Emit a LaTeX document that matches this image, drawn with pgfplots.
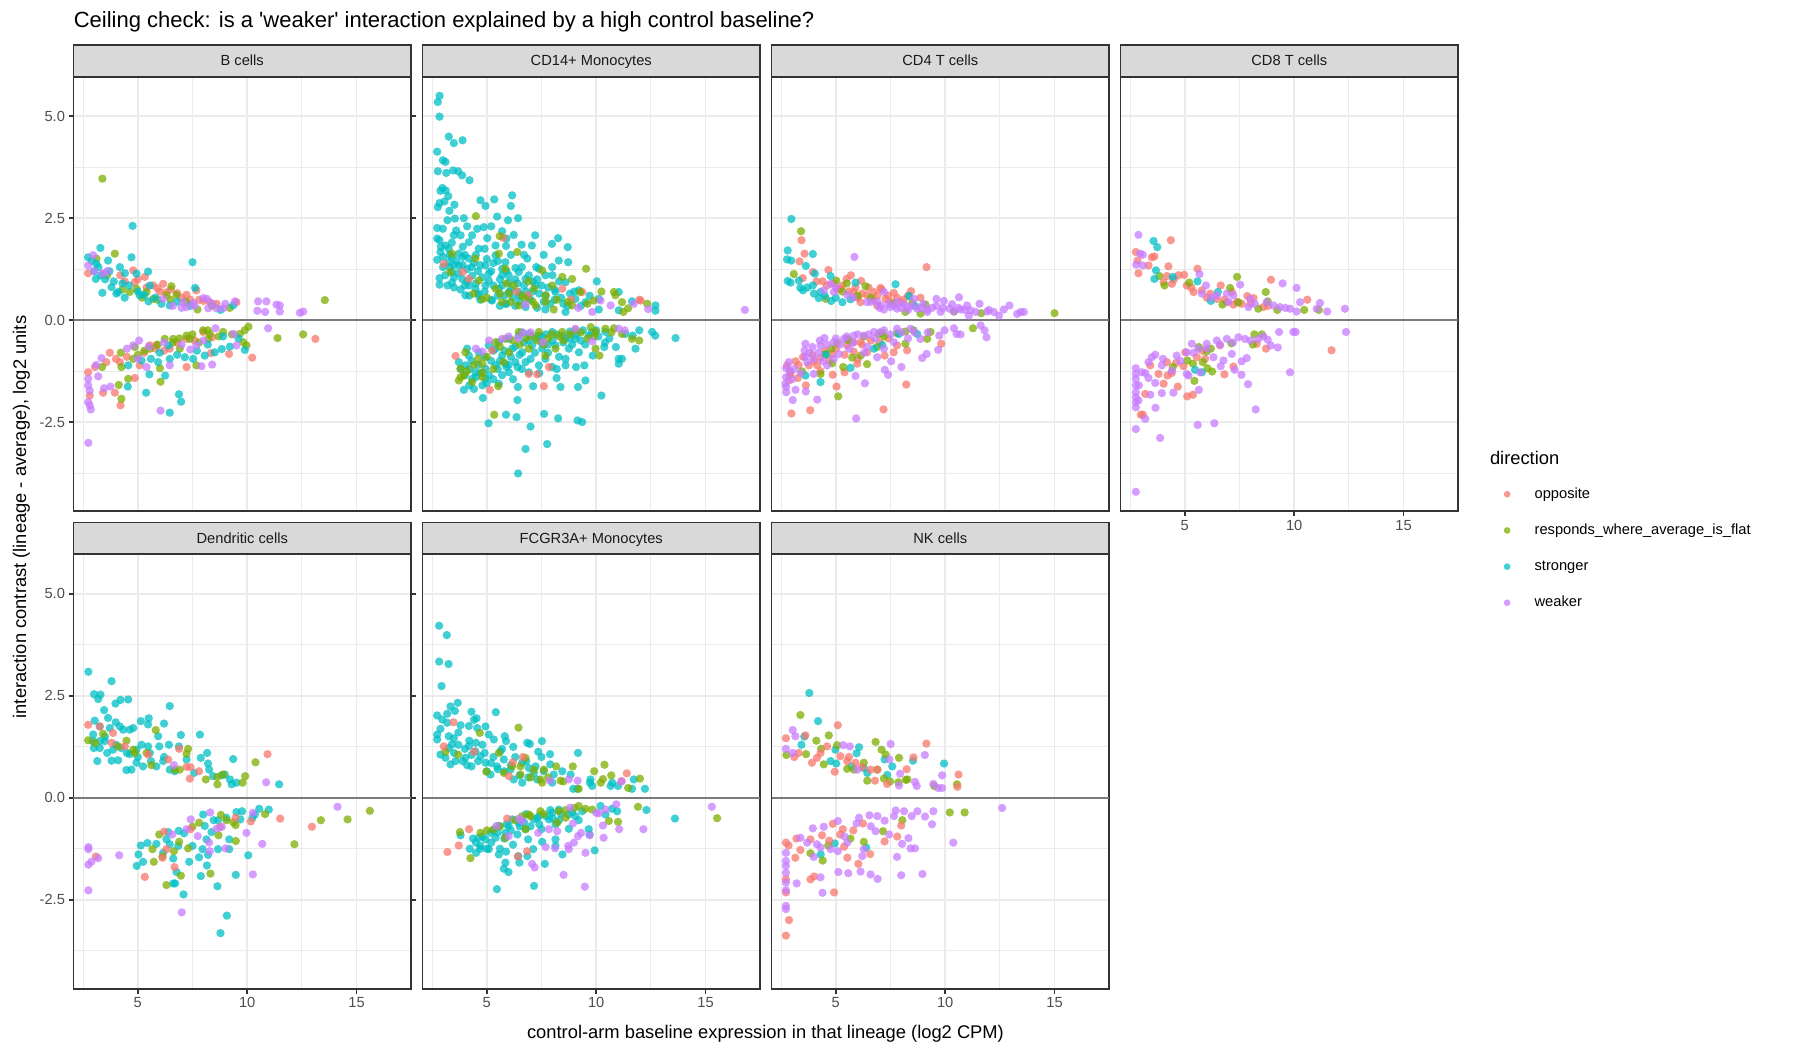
\documentclass[border=0pt]{standalone}
\usepackage{fontspec}
\setmainfont{Liberation Sans}
\usepackage{pgfplots}
\pgfplotsset{compat=1.18}
\definecolor{cO}{HTML}{F8766D}
\definecolor{cR}{HTML}{7CAE00}
\definecolor{cS}{HTML}{00BFC4}
\definecolor{cW}{HTML}{C77CFF}
\definecolor{g92}{HTML}{EBEBEB}
\definecolor{g85}{HTML}{D9D9D9}
\definecolor{g20}{HTML}{333333}
\definecolor{g30}{HTML}{4D4D4D}
\definecolor{g10}{HTML}{1A1A1A}
\definecolor{hl}{HTML}{7A7A7A}
\newcommand\tfs{\fontsize{8.8}{10}\selectfont}
\newcommand\afs{\fontsize{11}{13}\selectfont}
\pgfplotsset{
 panel/.style={scale only axis, width=202.5pt, height=260.8pt,
  xmin=2.06, xmax=17.49, ymin=-4.69, ymax=5.97,
  xtick={5,10,15}, ytick={-2.5,0,2.5,5},
  minor xtick={2.5,7.5,12.5}, minor ytick={-3.75,-1.25,1.25,3.75},
  grid=both, major grid style={draw=g92, line width=1.07pt},
  minor grid style={draw=g92, line width=0.53pt},
  axis line style={draw=g20, line width=1.07pt},
  tick align=outside, major tick length=2.75pt, minor tick length=0pt,
  xtick style={draw=none}, ytick style={draw=none},
  xticklabels={}, yticklabels={}, anchor=north west},
 xlab/.style={xtick style={draw=g20, line width=1.07pt}, xticklabels={5,10,15},
  xticklabel style={font=\tfs, text=g30, inner sep=0pt, yshift=-2.2pt}},
 ylab/.style={ytick style={draw=g20, line width=1.07pt}, yticklabels={-2.5,0.0,2.5,5.0},
  yticklabel style={font=\tfs, text=g30, inner sep=0pt, xshift=-2.2pt}},
 dot/.style={only marks, color=#1, mark=*, mark size=2.5pt,
  mark options={fill=#1, draw=#1, line width=0pt, fill opacity=0.75, draw opacity=0}},
 po/.style={dot=cO}, pr/.style={dot=cR}, ps/.style={dot=cS}, pw/.style={dot=cW},
 hz/.style={draw=hl, line width=1.07pt, forget plot},
}
\newcommand\strip[2]{\draw[fill=g85, draw=g20, line width=1.07pt] (#1.north west) rectangle ([yshift=19.15pt]#1.north east);
 \node[font=\tfs, text=g10, inner sep=0pt, text height=6.3pt, text depth=0pt] at ([yshift=9.575pt]#1.north) {#2};}
\begin{document}
\begin{tikzpicture}
\useasboundingbox (0,0) rectangle (1080pt,-630pt);
\node[anchor=base west, inner sep=0pt, font=\fontsize{13.2}{15}\selectfont] at (44.1pt,-16.5pt) {Ceiling check: is a \textquotesingle weaker\textquotesingle{} interaction explained by a high control baseline?};

% B cells
\begin{axis}[panel, ylab, at={(44.1pt,-46.0pt)}, name=bc]
\addplot[hz] coordinates {(2.06,0) (17.49,0)};
\addplot[po] coordinates {(2.73,1.15)(4.79,1.22)(5.32,1.06)(5.70,0.85)(6.16,0.89)(7.23,0.62)(7.68,0.73)(8.29,0.44)(9.51,0.44)(3.41,1.14)(4.86,0.93)(6.5,0.75)(7.0,0.55)(5.0,1.0)(6.0,0.7)(7.8,0.5)(4.4,0.95)(5.4,0.8)(5.9,0.78)(6.3,0.68)(6.8,0.66)(7.4,0.5)(8.0,0.47)(8.6,0.4)(4.2,1.1)
(3.04,-1.15)(2.73,-1.28)(3.72,-0.80)(3.56,-1.03)(3.41,-1.78)(3.95,-1.78)(4.21,-2.09)(2.80,-1.85)(4.86,-1.42)(5.09,-1.11)(5.85,-0.62)(6.46,-0.70)(7.23,-0.46)(7.99,-0.29)(8.34,-0.81)(9.17,-0.83)(10.23,-0.92)(13.12,-0.46)(7.23,-1.15)(5.55,-0.62)(4.18,-1.03)(4.5,-0.9)(5.3,-0.8)(5.8,-0.7)(6.8,-0.55)(7.6,-0.5)(8.4,-0.42)(6.2,-0.75)(4.0,-0.95)};
\addplot[pr] coordinates {(3.38,3.47)(3.95,1.63)(6.54,0.83)(13.55,0.49)(7.73,0.26)(9.2,0.30)(3.11,1.51)(4.63,0.69)(5.70,0.52)(6.31,0.61)(6.77,0.62)(5.40,0.69)(4.94,0.77)(4.3,0.75)(5.2,0.55)(5.9,0.5)(6.5,0.5)(7.2,0.45)(8.4,0.35)(3.6,1.1)
(10.06,-0.16)(9.89,-0.25)(9.66,-0.34)(11.39,-0.44)(12.56,-0.35)(8.9,-0.29)(8.29,-0.34)(7.99,-0.25)(7.23,-0.38)(6.62,-0.46)(6.23,-0.46)(6.92,-0.70)(6.01,-1.18)(6.04,-1.51)(4.22,-0.80)(4.86,-0.66)(4.79,-0.95)(4.25,-1.15)(3.37,-1.15)(4.13,-1.59)(4.25,-1.93)(4.56,-1.44)(7.68,-1.11)(5.55,-0.70)(9.97,-0.62)(9.82,-0.54)(8.22,-0.46)(7.38,-0.46)(5.3,-0.75)(5.9,-0.6)(6.6,-0.55)(7.5,-0.35)(8.2,-0.25)(8.7,-0.4)(9.3,-0.35)(6.9,-0.45)(7.8,-0.55)(5.0,-0.85)};
\addplot[ps] coordinates {(2.73,1.54)(3.29,1.77)(4.76,2.31)(7.50,1.42)(3.11,1.38)(3.64,1.46)(4.18,1.30)(4.71,1.54)(5.47,1.19)(3.08,1.01)(3.38,0.67)(3.80,0.81)(4.10,0.69)(4.41,1.15)(4.94,1.14)(5.55,0.85)(5.49,0.46)(6.08,0.40)(6.46,0.36)(7.62,0.79)(8.78,0.25)(9.36,0.36)(4.02,0.65)(5.09,0.61)(3.0,1.2)(3.3,1.1)(3.5,1.0)(3.9,0.95)(4.3,0.9)(4.6,0.85)(5.0,0.7)(5.3,0.62)(5.8,0.55)(3.2,1.3)(3.7,1.2)(2.9,1.45)(4.4,0.55)(6.8,0.45)(7.4,0.35)
(4.56,-1.11)(5.38,-1.78)(5.53,-1.33)(6.25,-1.36)(6.88,-1.82)(6.98,-2.00)(6.46,-2.27)(4.54,-1.63)(8.90,-0.40)(8.84,-0.71)(9.89,-0.73)(9.21,-0.65)(8.06,-0.87)(7.15,-0.91)(6.46,-0.95)(5.93,-1.03)(5.17,-0.99)(7.53,-0.95)(8.52,-0.79)(6.0,-0.8)(6.8,-0.85)(7.7,-0.75)(8.2,-0.6)(5.6,-0.95)(6.4,-0.62)(9.6,-0.45)};
\addplot[pw] coordinates {(2.73,1.34)(2.96,1.59)(3.41,1.14)(8.0,0.54)(8.16,0.52)(9.44,0.46)(10.5,0.46)(10.88,0.46)(10.47,0.23)(10.82,0.20)(11.34,0.38)(11.49,0.36)(11.49,0.21)(12.41,0.18)(12.56,0.21)(7.07,0.44)(7.53,0.42)(8.22,0.29)(8.60,0.29)(8.9,0.29)(7.23,0.32)(6.16,0.52)(7.6,0.35)(8.4,0.4)(6.6,0.35)(7.0,0.3)(9.0,0.4)(3.0,1.2)(3.6,1.2)
(2.74,-3.01)(2.73,-1.44)(2.73,-1.60)(2.80,-1.73)(2.73,-2.01)(2.85,-2.19)(2.80,-2.09)(3.19,-1.38)(3.34,-0.93)(3.46,-1.67)(3.75,-1.63)(6.04,-2.22)(5.06,-0.50)(4.79,-0.62)(10.96,-0.20)(8.55,-0.20)(9.38,-0.34)(7.91,-1.13)(8.40,-1.09)(9.51,-0.62)(7.68,-0.62)(6.46,-1.11)(5.40,-1.15)(5.5,-0.65)(6.2,-0.55)(7.0,-0.6)(8.0,-0.5)(4.5,-0.7)(5.0,-0.95)(3.1,-1.1)(7.4,-0.72)};
\end{axis}
\strip{bc}{B cells}

% CD14+ Monocytes
\begin{axis}[panel, at={(253.5pt,-46.0pt)}, name=cd14]
\addplot[hz] coordinates {(2.06,0) (17.49,0)};
\addplot[ps] coordinates {(2.84,5.50)(2.76,5.35)(2.84,4.99)(3.26,4.50)(3.49,4.34)(3.89,4.41)(2.73,4.13)(2.99,3.92)(3.11,3.88)(2.76,3.65)(3.15,3.61)(3.46,3.67)(3.69,3.65)(3.87,3.55)(4.21,3.43)(2.97,3.24)(2.88,3.17)(3.12,3.18)(3.24,3.04)(2.76,2.77)(2.84,2.87)(3.06,2.91)(3.29,2.68)(3.52,2.83)(4.71,2.94)(5.34,2.96)(6.16,3.06)(6.10,2.80)(4.94,2.80)(5.47,2.54)(5.97,2.45)(6.43,2.50)(3.95,2.50)(3.54,2.49)(3.20,2.45)(2.73,2.26)(2.99,2.24)(2.73,2.00)(2.84,1.96)(2.73,1.48)(2.88,1.67)(2.84,1.03)(2.84,0.87)(3.49,2.08)(3.80,2.08)(4.33,2.08)(4.56,2.24)(4.86,2.28)(5.02,2.01)(5.70,2.18)(6.23,2.09)(7.21,2.08)(8.26,2.01)(8.70,1.79)(7.98,1.87)(7.06,1.83)(6.59,1.85)(5.88,1.82)(5.40,1.83)(8.29,1.46)(8.72,1.42)(10.03,0.95)(7.99,1.30)(7.26,1.30)(6.85,1.51)(6.31,1.28)(5.70,1.26)(4.94,1.34)(4.18,1.51)(3.72,1.63)(3.26,1.75)(3.41,1.18)(3.87,1.01)(4.18,0.85)(3.41,0.92)(4.02,0.61)(4.48,0.77)(5.09,0.97)(5.55,0.77)(6.01,0.93)(6.46,0.69)(6.77,1.01)(7.23,0.85)(7.68,1.10)(8.14,0.69)(8.60,0.93)(9.05,0.52)(9.51,0.44)(10.12,0.52)(11.03,0.69)(11.64,0.46)(12.71,0.36)(12.71,0.23)(11.03,0.24)(10.12,0.26)(8.60,0.20)(7.68,0.26)(6.77,0.32)(5.85,0.40)(5.24,0.48)(4.63,0.61)(9.21,0.73)(5.85,1.42)(5.40,1.59)(4.63,1.75)(4.18,1.91)(3.11,1.83)(3.26,1.42)(3.72,1.34)(6.92,1.10)(7.38,1.26)(6.46,1.18)(6.01,0.69)(5.70,1.10)(4.94,0.85)(4.33,1.09)(3.6,1.45)(3.9,1.35)(4.1,1.25)(4.4,1.4)(4.6,1.2)(4.8,1.05)(5.0,1.5)(5.2,1.2)(5.3,0.85)(5.6,1.0)(5.8,0.6)(6.0,1.1)(6.2,0.55)(6.4,0.9)(6.6,1.3)(6.8,0.7)(7.0,0.5)(7.1,0.95)(7.4,0.65)(7.6,0.45)(7.8,0.8)(8.1,0.5)(8.3,0.95)(8.5,0.4)(8.8,0.65)(9.3,0.35)(9.7,0.6)(3.3,1.3)(3.5,1.05)(3.8,0.75)(4.2,0.6)(4.5,1.6)(4.9,1.75)(5.5,1.45)(6.1,1.6)(3.1,1.1)(3.2,0.85)(4.0,1.6)(4.7,0.5)(5.9,0.4)(6.5,0.45)(7.3,0.3)(3.0,1.55)(3.4,1.9)(3.9,1.8)(3.3,1.6)(3.5,1.35)(3.7,1.15)(3.9,1.55)(4.1,0.95)(4.3,1.3)(4.5,0.9)(4.7,1.35)(4.9,0.7)(5.1,1.15)(5.3,1.4)(5.5,0.6)(5.7,0.85)(5.9,1.2)(6.1,0.75)(6.3,1.0)(6.5,0.6)(6.7,0.85)(6.9,0.55)(7.1,0.7)(7.3,1.0)(7.5,0.85)(7.7,0.6)(7.9,0.4)(8.1,0.75)(8.4,0.55)(8.7,0.35)(9.0,0.7)(3.5,0.8)(4.0,0.85)(4.6,0.65)(5.2,0.5)(5.6,0.35)(6.3,0.35)(3.0,1.3)(3.4,1.55)(2.9,1.8)(3.6,2.2)(4.1,2.3)(5.2,2.3)(5.9,2.0)(6.7,1.6)(7.6,1.6)(8.0,1.1)
(6.43,-3.76)(6.77,-3.16)(7.76,-3.04)(7.00,-2.61)(5.08,-2.53)(5.88,-2.32)(6.36,-2.38)(7.62,-2.30)(8.26,-2.41)(9.15,-2.46)(9.36,-2.50)(10.24,-1.85)(6.40,-1.96)(4.82,-1.91)(3.95,-1.71)(4.41,-1.69)(6.42,-1.64)(7.12,-1.62)(8.37,-1.64)(9.17,-1.64)(9.51,-1.48)(8.19,-1.42)(11.03,-0.95)(11.03,-1.07)(11.18,-0.95)(11.80,-0.70)(12.56,-0.29)(12.70,-0.38)(13.63,-0.44)(11.97,-0.25)(11.67,-0.38)(10.9,-0.66)(10.37,-0.66)(9.84,-0.87)(9.46,-1.11)(9.08,-1.15)(8.6,-1.11)(7.99,-1.15)(7.38,-1.11)(6.77,-1.03)(6.31,-1.03)(5.85,-1.07)(5.40,-1.11)(4.94,-1.19)(4.48,-1.28)(4.02,-1.11)(4.18,-0.87)(4.63,-0.79)(5.09,-0.62)(5.55,-0.54)(6.01,-0.46)(6.46,-0.38)(6.92,-0.34)(7.38,-0.38)(7.99,-0.29)(8.45,-0.38)(9.05,-0.46)(9.66,-0.38)(10.42,-0.29)(11.34,-0.34)(5.70,-0.87)(6.16,-0.70)(6.62,-0.79)(7.07,-0.62)(7.53,-0.70)(8.14,-0.62)(8.75,-0.70)(9.21,-0.79)(4.94,-1.44)(5.55,-1.56)(6.01,-1.28)(6.92,-1.28)(7.68,-0.95)(8.60,-0.95)(4.33,-1.44)(3.72,-1.03)(4.10,-0.70)(4.3,-1.0)(4.6,-1.1)(4.9,-0.9)(5.2,-1.0)(5.5,-1.2)(5.8,-0.75)(6.1,-0.9)(6.4,-1.15)(6.7,-0.55)(7.0,-0.95)(7.2,-0.45)(7.5,-0.55)(7.8,-0.8)(8.0,-0.5)(8.3,-0.9)(8.6,-0.45)(8.9,-0.6)(9.3,-0.5)(9.8,-0.3)(10.1,-0.4)(10.6,-0.45)(4.5,-1.4)(5.0,-1.55)(5.7,-1.35)(6.2,-1.45)(4.0,-1.35)(3.8,-1.2)(6.6,-0.3)(7.7,-0.35)(8.8,-0.28)(9.4,-0.25)(5.3,-0.75)(5.9,-1.15)(4.2,-1.2)(4.7,-1.3)(5.1,-1.35)(5.6,-1.0)(6.0,-1.1)(6.3,-0.65)(6.6,-1.2)(6.9,-0.5)(7.2,-0.8)(7.5,-0.4)(7.8,-0.6)(8.2,-0.35)(8.5,-0.55)(8.8,-0.45)(9.1,-0.35)(9.5,-0.6)(10.0,-0.25)(10.4,-0.55)(5.4,-0.7)(6.5,-0.85)(4.8,-1.6)(5.3,-1.45)(4.2,-1.6)(7.4,-1.3)(8.2,-1.2)};
\addplot[po] coordinates {(5.75,2.02)(3.03,1.38)(3.90,1.18)(4.18,1.01)(6.36,0.70)(6.89,0.61)(8.86,0.50)(9.36,0.69)(11.98,0.50)(12.03,0.48)(8.45,0.77)(3.57,-0.88)(5.14,-1.71)(7.30,-1.33)(7.61,-1.62)(5.24,-0.74)(7.84,-1.15)(6.92,-1.32)};
\addplot[pr] coordinates {(4.50,2.55)(5.59,2.06)(6.39,1.67)(9.54,1.26)(4.48,1.51)(3.41,1.63)(3.33,1.18)(5.85,1.26)(7.53,1.22)(8.45,1.06)(8.90,1.01)(7.99,0.85)(7.15,0.77)(6.23,0.85)(5.40,0.77)(4.79,0.51)(5.70,0.44)(6.46,0.36)(7.23,0.36)(8.06,0.26)(8.90,0.36)(9.27,0.69)(10.24,0.70)(10.81,0.69)(10.88,0.61)(11.18,0.44)(11.46,0.29)(12.33,0.40)(11.24,0.20)(9.89,0.48)(7.68,0.61)(6.77,0.52)(6.01,0.65)(4.63,0.97)(5.55,1.63)(5.0,0.55)(5.6,0.65)(6.1,0.45)(6.6,0.6)(7.1,0.45)(7.7,0.45)(8.2,0.5)(8.7,0.45)(9.6,0.4)(5.9,0.9)(6.9,0.95)(4.4,0.65)
(5.34,-2.32)(5.52,-1.62)(3.72,-1.48)(3.80,-1.19)(3.95,-1.36)(4.02,-0.79)(4.79,-1.07)(5.40,-0.54)(5.85,-0.46)(6.46,-0.29)(7.07,-0.38)(7.38,-0.29)(7.99,-0.34)(8.45,-0.29)(9.05,-0.25)(9.75,-0.17)(9.97,-0.29)(10.42,-0.21)(10.81,-0.20)(11.18,-0.34)(11.64,-0.46)(11.97,-0.50)(10.15,-0.87)(9.97,-0.70)(8.14,-0.70)(7.68,-0.87)(6.92,-0.70)(6.01,-0.79)(4.79,-1.28)(4.33,-1.52)(5.76,-1.03)(5.0,-0.9)(5.6,-0.65)(6.2,-0.5)(6.8,-0.45)(7.3,-0.5)(7.8,-0.45)(8.3,-0.4)(8.8,-0.35)(9.3,-0.3)(9.9,-0.4)(10.7,-0.3)(4.4,-1.1)(4.1,-1.25)(3.8,-1.4)(5.3,-1.2)(4.6,-0.95)(6.5,-0.6)(7.6,-0.6)(8.5,-0.5)(9.6,-0.45)(4.8,-1.4)};
\addplot[pw] coordinates {(16.80,0.25)(9.82,0.20)(10.66,0.36)(11.72,0.40)(12.38,0.27)(9.18,0.30)(6.77,0.38)(10.2,0.48)(4.79,-0.77)(6.43,-0.44)(6.66,-0.31)(5.70,-0.46)(9.82,-0.52)(11.03,-0.21)(11.30,-0.25)(9.05,-0.21)(7.56,-0.54)(5.1,-0.5)(6.0,-0.4)(7.0,-0.3)(4.5,-0.7)};
\end{axis}
\strip{cd14}{CD14+ Monocytes}

% CD4 T cells
\begin{axis}[panel, at={(462.9pt,-46.0pt)}, name=cd4]
\addplot[hz] coordinates {(2.06,0) (17.49,0)};
\addplot[po] coordinates {(3.43,1.96)(3.57,1.63)(3.34,1.44)(3.95,1.18)(3.49,1.03)(4.12,0.95)(4.66,1.23)(5.69,1.10)(5.49,1.01)(9.15,1.30)(6.16,0.96)(7.04,0.79)(7.65,0.67)(8.44,0.71)(8.87,0.55)(6.74,0.69)(6.43,0.61)(5.82,0.69)(5.21,0.77)(4.60,0.85)(7.27,0.52)(7.96,0.44)(6.89,0.36)(6.13,0.44)(4.9,0.9)(5.3,0.85)(5.6,0.7)(5.9,0.8)(6.2,0.65)(6.5,0.8)(6.9,0.6)(7.1,0.75)(7.4,0.6)(7.8,0.55)(8.1,0.5)(8.3,0.6)(6.0,0.55)(6.7,0.5)(5.1,0.75)(4.4,0.95)(7.5,0.45)
(2.97,-2.29)(3.83,-2.21)(7.18,-2.19)(8.22,-1.58)(5.03,-1.63)(3.63,-1.60)(3.26,-1.42)(2.85,-1.48)(2.93,-1.28)(2.77,-1.11)(3.16,-1.01)(3.77,-1.11)(4.15,-1.11)(3.93,-0.85)(4.30,-0.93)(4.83,-0.83)(4.86,-1.34)(5.40,-1.28)(5.98,-1.07)(6.43,-0.79)(7.23,-0.87)(7.65,-0.79)(8.26,-0.74)(9.82,-0.58)(5.52,-0.62)(6.13,-0.54)(5.82,-0.77)(7.80,-0.62)(3.3,-1.1)(4.0,-1.0)(4.5,-0.75)(5.0,-0.7)(5.4,-0.85)(5.8,-0.55)(6.2,-0.6)(6.6,-0.5)(7.0,-0.55)(7.4,-0.45)(4.3,-1.25)(4.7,-1.0)(2.9,-1.35)(3.5,-0.9)(6.0,-0.95)};
\addplot[pr] coordinates {(3.41,2.18)(3.08,1.13)(5.02,0.97)(6.36,0.83)(9.10,0.38)(10.40,0.21)(11.65,0.17)(15.0,0.17)(8.49,0.42)(8.18,0.20)(4.54,0.52)(8.87,0.16)(5.3,0.7)(6.0,0.6)(7.6,0.4)(6.6,0.55)(5.5,0.9)
(3.46,-1.26)(5.11,-1.87)(4.30,-1.32)(4.83,-1.06)(4.54,-0.83)(5.06,-0.56)(5.34,-1.15)(5.75,-0.92)(6.43,-1.08)(6.97,-0.35)(7.12,-0.31)(8.18,-0.58)(8.18,-0.28)(8.56,-0.25)(9.18,-0.46)(9.33,-0.29)(11.27,-0.20)(5.52,-0.46)(6.13,-0.87)(6.89,-0.66)(5.6,-0.5)(6.3,-0.4)(7.2,-0.4)(7.8,-0.32)(4.8,-0.7)};
\addplot[ps] coordinates {(2.97,2.48)(2.80,1.71)(2.77,1.49)(2.96,1.46)(3.95,1.62)(3.63,1.33)(4.04,1.14)(2.80,0.96)(2.93,0.92)(3.31,0.97)(3.38,0.79)(3.50,0.73)(3.95,0.85)(4.30,0.69)(4.22,0.54)(4.76,1.08)(4.79,0.47)(5.30,0.44)(5.67,0.51)(5.90,0.92)(7.73,0.88)(8.35,0.59)(8.64,0.34)(4.5,0.6)(5.0,0.55)(3.7,0.8)(4.0,0.65)(3.61,-1.36)(4.30,-1.52)(4.54,-0.85)(7.88,-0.34)(7.12,-0.61)(5.67,-1.17)(8.72,-0.34)(6.74,-0.70)};
\addplot[pw] coordinates {(5.85,1.55)(10.63,0.56)(9.60,0.52)(9.94,0.47)(10.32,0.39)(11.0,0.36)(11.57,0.40)(12.94,0.36)(12.68,0.26)(13.45,0.20)(13.6,0.20)(13.29,0.15)(12.22,0.20)(11.92,0.21)(11.16,0.24)(10.70,0.26)(10.40,0.21)(9.79,0.20)(9.18,0.26)(8.72,0.28)(8.26,0.32)(7.80,0.28)(7.50,0.32)(7.20,0.26)(7.04,0.36)(6.43,0.44)(5.52,0.62)(4.91,0.69)(4.45,0.73)(4.76,0.89)(7.20,0.69)(8.58,0.52)(9.18,0.20)(11.08,0.11)(12.46,0.11)(5.0,0.8)(5.8,0.55)(6.6,0.45)(7.4,0.4)(7.7,0.35)(8.0,0.3)(8.5,0.35)(8.9,0.3)(9.4,0.3)(9.9,0.3)(10.2,0.28)(10.9,0.25)(11.4,0.2)(12.0,0.25)(6.9,0.45)(8.1,0.4)(7.0,0.3)(7.8,0.45)(8.3,0.25)(9.0,0.4)(9.6,0.35)(10.6,0.3)
(5.93,-2.41)(4.15,-1.95)(3.03,-1.96)(2.73,-1.77)(2.73,-1.64)(2.73,-1.40)(2.73,-1.18)(2.85,-1.03)(3.16,-1.71)(3.63,-1.75)(3.57,-0.74)(3.61,-0.58)(3.93,-0.66)(4.27,-0.50)(4.48,-0.44)(5.90,-1.37)(6.33,-1.55)(7.24,-1.22)(7.39,-1.34)(7.53,-1.01)(8.0,-1.15)(8.95,-0.93)(9.15,-0.83)(9.68,-0.73)(10.40,-0.20)(10.52,-0.34)(10.70,-0.35)(11.62,-0.13)(11.80,-0.25)(11.89,-0.42)(9.97,-0.25)(9.73,-0.38)(8.87,-0.46)(8.41,-0.21)(7.80,-0.21)(7.20,-0.25)(6.74,-0.29)(6.28,-0.38)(5.82,-0.38)(5.37,-0.46)(4.91,-0.54)(4.30,-0.62)(3.99,-0.95)(3.69,-1.03)(3.99,-1.32)(4.60,-1.11)(5.14,-0.83)(6.43,-0.66)(7.65,-0.54)(6.89,-0.91)(2.70,-1.56)(4.6,-0.6)(5.0,-0.45)(5.5,-0.4)(6.0,-0.35)(6.5,-0.35)(7.0,-0.3)(7.5,-0.35)(8.0,-0.3)(8.6,-0.3)(9.2,-0.3)(3.8,-0.8)(4.2,-0.8)(4.9,-0.95)(5.6,-0.7)(6.3,-0.8)(3.1,-1.2)(3.4,-1.3)(2.9,-1.25)(3.6,-0.9)(4.4,-1.0)(5.2,-0.6)(5.8,-0.55)(6.8,-0.45)(7.2,-0.7)(8.3,-0.45)(3.0,-1.45)};
\end{axis}
\strip{cd4}{CD4 T cells}

% CD8 T cells
\begin{axis}[panel, xlab, at={(672.3pt,-46.0pt)}, name=cd8,
  legend entries={opposite, responds\_where\_average\_is\_flat, stronger, weaker},
  legend image code/.code={\draw[#1, mark size=2pt] plot coordinates {(0pt,0pt)};},
  legend style={at={(1.1357,-0.0855)}, anchor=west, draw=none, fill=none, inner sep=0pt, outer sep=0pt,
    row sep=13.7pt, column sep=14.5pt, font=\tfs, cells={anchor=west},
    nodes={inner sep=0pt, text height=6.4pt, text depth=1.6pt}}]
\addplot[hz] coordinates {(2.06,0) (17.49,0)};
\addplot[po] coordinates {(4.36,1.96)(2.76,1.67)(2.84,1.46)(2.88,1.15)(3.49,1.54)(3.61,1.56)(3.34,1.34)(4.25,1.32)(5.58,1.26)(4.97,1.11)(4.71,1.10)(4.18,1.08)(4.03,0.93)(4.41,0.89)(5.09,0.85)(5.40,0.69)(5.78,0.73)(6.16,0.65)(6.64,0.85)(7.15,0.69)(6.46,0.52)(6.92,0.44)(7.22,0.38)(7.60,0.40)(7.86,0.59)(8.14,0.54)(8.59,0.32)(8.94,0.99)(10.60,0.50)(4.5,1.0)(5.3,0.8)(6.0,0.55)(6.8,0.5)(7.4,0.45)(8.0,0.4)(8.8,0.35)
(2.99,-2.32)(3.08,-2.32)(3.19,-1.81)(4.68,-1.63)(5.11,-1.87)(5.37,-1.83)(11.71,-0.74)(6.81,-1.33)(7.22,-1.14)(4.03,-1.56)(3.80,-1.32)(4.21,-1.36)(4.94,-1.13)(5.02,-0.79)(5.55,-0.91)(5.93,-0.95)(6.61,-0.62)(8.29,-0.58)(8.71,-0.70)(4.18,-1.03)(3.42,-1.11)(4.6,-1.05)(5.8,-0.75)(4.4,-1.3)};
\addplot[pr] coordinates {(3.84,1.08)(4.07,0.85)(5.20,0.92)(7.39,1.06)(7.07,0.79)(8.70,0.69)(8.79,0.46)(6.72,0.38)(7.45,0.43)(8.36,0.28)(9.23,0.25)(10.46,0.25)(11.13,0.25)(8.18,-0.35)(8.52,-0.35)(8.11,-0.60)(7.13,-0.57)(6.19,-0.70)(6.00,-0.77)(5.82,-1.03)(5.37,-1.07)(5.12,-0.99)(5.44,-1.49)(6.25,-1.26)(6.03,-1.18)(4.45,-1.15)(5.64,-0.66)};
\addplot[ps] coordinates {(3.57,1.94)(3.74,1.79)(3.68,1.22)(3.61,1.01)(4.45,1.06)(5.58,0.95)(6.19,0.47)(6.51,0.69)(5.47,-1.22)(5.78,-1.28)};
\addplot[pw] coordinates {(2.88,2.09)(2.96,1.63)(3.08,1.60)(2.78,1.36)(3.08,1.34)(5.67,1.13)(5.97,0.85)(7.53,0.87)(9.47,0.90)(10.11,0.79)(10.27,0.44)(11.18,0.42)(12.32,0.28)(11.51,0.21)(11.03,0.28)(9.81,0.28)(10.11,0.21)(9.35,0.32)(9.05,0.36)(8.74,0.44)(7.98,0.52)(7.22,0.61)(6.92,0.65)(6.46,0.61)(5.78,0.65)(7.91,0.32)(6.2,0.55)(7.0,0.45)(8.2,0.4)(9.6,0.3)
(2.76,-4.21)(3.87,-2.89)(2.76,-2.67)(3.19,-2.42)(5.59,-2.57)(6.35,-2.53)(8.24,-2.19)(2.76,-2.14)(2.76,-2.01)(2.76,-1.89)(2.76,-1.77)(2.76,-1.60)(2.76,-1.44)(2.76,-1.32)(2.76,-1.18)(2.88,-1.97)(3.42,-1.83)(3.66,-2.15)(3.95,-1.79)(4.48,-1.78)(5.64,-1.71)(3.65,-1.54)(3.34,-1.42)(3.04,-1.28)(3.34,-1.03)(3.49,-0.91)(3.65,-0.85)(3.95,-1.11)(4.41,-1.24)(5.09,-1.32)(4.63,-0.87)(5.09,-0.79)(5.32,-0.58)(5.62,-0.70)(6.00,-0.58)(6.46,-0.50)(6.92,-0.46)(7.45,-0.42)(7.75,-0.46)(8.36,-0.46)(8.79,-0.48)(8.93,-0.62)(9.25,-0.67)(9.31,-0.29)(9.96,-0.29)(10.07,-0.29)(12.37,-0.29)(9.81,-1.28)(7.89,-1.57)(7.59,-1.34)(7.28,-1.22)(6.77,-0.99)(6.64,-1.13)(7.60,-1.01)(7.83,-0.93)(7.15,-0.83)(6.31,-0.91)(5.70,-1.28)(5.17,-1.36)(4.0,-0.95)(4.8,-1.0)(5.4,-0.8)(6.0,-0.7)(6.6,-0.6)(7.2,-0.55)(8.0,-0.5)(8.6,-0.4)(3.2,-1.3)(2.9,-1.6)};
\end{axis}
\strip{cd8}{CD8 T cells}

% Dendritic cells
\begin{axis}[panel, xlab, ylab, at={(44.1pt,-332.6pt)}, name=dc]
\addplot[hz] coordinates {(2.06,0) (17.49,0)};
\addplot[ps] coordinates {(2.74,3.09)(3.80,2.86)(3.00,2.54)(3.29,2.53)(3.19,2.42)(3.98,2.31)(4.21,2.40)(4.56,2.41)(6.46,2.25)(3.46,2.15)(3.64,1.96)(3.03,1.89)(3.26,1.75)(3.99,1.85)(4.18,1.75)(3.72,1.71)(5.14,1.88)(5.50,1.95)(5.47,1.80)(6.20,1.82)(5.93,1.51)(4.79,1.71)(4.63,1.67)(4.33,1.67)(6.97,1.54)(7.84,1.55)(2.96,1.55)(2.93,1.39)(3.26,1.39)(3.49,1.39)(2.99,1.22)(3.26,1.22)(3.60,1.10)(3.87,1.18)(4.25,1.22)(4.94,1.18)(5.17,1.30)(5.47,1.26)(5.98,1.26)(6.42,1.30)(6.88,1.26)(8.17,1.10)(9.36,0.95)(3.15,0.90)(3.80,0.91)(4.10,0.92)(4.48,0.68)(4.71,0.69)(4.94,0.86)(5.24,0.77)(5.85,0.77)(6.16,0.90)(6.46,0.69)(6.69,0.65)(7.23,0.94)(7.88,0.98)(8.21,0.84)(8.26,0.69)(7.58,0.61)(8.44,0.53)(8.98,0.57)(9.21,0.45)(9.29,0.33)(9.51,0.37)(11.46,0.33)(8.83,0.55)(5.55,1.10)(4.63,1.07)(4.0,1.3)(4.5,1.1)(5.0,1.0)(5.6,0.9)(6.2,1.0)(3.5,1.5)
(8.78,-3.32)(9.07,-2.89)(7.09,-2.37)(8.64,-2.17)(6.62,-2.10)(6.71,-2.10)(7.88,-1.92)(9.48,-1.89)(8.16,-1.66)(6.77,-1.82)(7.35,-1.57)(4.95,-1.67)(5.24,-1.57)(5.03,-1.39)(5.14,-1.17)(5.44,-1.11)(5.85,-1.13)(6.31,-1.02)(6.46,-1.14)(6.62,-1.49)(6.85,-1.18)(6.87,-0.81)(7.12,-0.87)(7.50,-1.18)(7.80,-1.46)(7.96,-1.26)(8.14,-1.02)(8.21,-1.40)(8.37,-0.84)(8.67,-1.26)(9.18,-1.26)(10.05,-1.41)(9.18,-1.02)(8.67,-0.55)(8.47,-0.55)(7.99,-0.41)(8.06,-0.69)(9.05,-0.49)(9.51,-0.35)(9.77,-0.33)(9.69,-0.53)(10.24,-0.49)(10.55,-0.27)(10.99,-0.29)(10.35,-0.41)(6.16,-1.35)(6.39,-0.84)};
\addplot[pr] coordinates {(2.73,1.41)(3.05,1.35)(3.41,1.57)(5.82,1.66)(4.48,1.40)(4.79,1.18)(5.40,1.10)(5.62,0.80)(6.92,0.69)(7.30,1.20)(7.23,1.08)(8.11,0.45)(8.64,0.33)(8.63,0.51)(8.90,0.57)(9.91,0.53)(9.79,0.37)(10.38,0.87)(6.69,0.69)(4.10,1.26)(4.86,1.10)(15.61,-0.32)(14.59,-0.53)(13.37,-0.55)(12.16,-1.14)(10.82,-0.40)(9.47,-0.67)(9.48,-1.06)(8.80,-0.42)(9.36,-0.60)(9.05,-0.55)(8.69,-0.92)(7.50,-0.71)(7.30,-1.24)(6.89,-1.08)(6.65,-1.31)(5.98,-0.90)(5.67,-1.26)(5.73,-1.57)(6.13,-1.44)(6.97,-1.91)(6.31,-2.14)(8.32,-1.86)(7.80,-0.61)};
\addplot[po] coordinates {(2.73,1.79)(3.26,1.75)(3.87,1.59)(3.80,1.35)(4.41,1.26)(5.47,1.06)(6.39,0.94)(6.89,1.20)(7.23,0.76)(7.41,0.75)(7.38,0.47)(7.80,0.65)(10.93,1.07)(3.08,-1.44)(5.32,-1.94)(6.68,-1.70)(6.20,-0.83)(6.13,-1.47)(6.31,-1.26)(7.41,-0.77)(9.47,-0.49)(10.17,-0.58)(11.51,-0.51)(12.96,-0.71)(8.75,-0.72)};
\addplot[pw] coordinates {(6.65,0.80)(10.87,0.38)(2.74,-1.21)(2.74,-1.26)(2.74,-1.64)(2.88,-1.57)(3.19,-1.48)(4.15,-1.41)(2.74,-2.27)(7.01,-2.81)(6.57,-0.90)(7.23,-0.77)(7.42,-0.53)(7.74,-0.94)(8.31,-0.36)(8.26,-1.10)(8.29,-1.31)(8.60,-0.76)(8.84,-0.71)(9.01,-1.24)(9.97,-0.86)(10.26,-0.37)(10.69,-1.13)(10.26,-1.88)(14.13,-0.22)};
\end{axis}
\strip{dc}{Dendritic cells}

% FCGR3A+ Monocytes
\begin{axis}[panel, xlab, at={(253.5pt,-332.6pt)}, name=fc]
\addplot[hz] coordinates {(2.06,0) (17.49,0)};
\addplot[ps] coordinates {(2.82,4.22)(3.17,3.99)(2.82,3.34)(3.25,3.28)(2.93,2.74)(3.67,2.33)(3.34,2.24)(3.54,2.13)(3.19,2.06)(2.73,2.02)(2.96,1.92)(3.19,1.84)(3.80,1.78)(2.88,1.69)(2.73,1.55)(2.73,1.43)(3.26,1.51)(3.49,1.46)(3.41,1.31)(3.26,1.22)(2.88,1.06)(3.11,0.98)(3.34,0.82)(3.57,0.90)(4.30,2.11)(4.53,1.95)(4.41,1.91)(4.18,1.76)(4.56,1.71)(4.94,1.75)(5.41,2.10)(5.09,1.55)(5.32,1.43)(5.82,1.51)(5.88,1.39)(6.21,1.25)(6.85,1.35)(6.97,1.32)(7.52,1.39)(7.35,1.13)(7.89,1.07)(7.50,1.00)(9.17,1.10)(4.18,1.27)(4.48,1.14)(4.02,0.98)(4.30,0.77)(4.71,1.02)(4.94,0.86)(5.17,0.57)(5.47,0.77)(5.78,0.94)(6.08,0.69)(6.23,0.45)(6.62,0.37)(6.62,0.86)(6.92,0.73)(7.15,0.61)(7.23,0.77)(7.90,0.82)(7.99,0.37)(8.06,0.57)(8.45,0.65)(8.83,0.57)(8.95,0.22)(9.14,0.22)(9.71,0.37)(9.74,0.45)(9.82,0.29)(10.66,0.29)(10.73,0.37)(11.0,0.29)(11.64,0.22)(11.72,0.45)(12.23,0.22)(5.62,1.14)(3.7,1.3)(4.0,1.2)(4.3,1.05)(4.6,0.9)(4.9,1.1)(5.2,0.85)(5.5,0.7)(5.8,0.65)(6.1,0.8)(6.5,0.55)(6.9,0.5)(7.3,0.45)(3.9,0.9)(4.5,1.35)(5.0,0.65)(3.5,1.1)(4.2,1.4)(4.8,1.3)(5.3,1.0)(5.7,1.2)(6.3,1.0)(6.8,0.9)(7.6,0.65)(4.1,0.8)(3.7,1.6)
(5.46,-2.24)(7.16,-2.16)(5.99,-1.82)(5.78,-1.74)(5.85,-1.59)(6.49,-1.59)(7.65,-1.62)(8.46,-1.39)(9.93,-1.29)(8.14,-1.18)(8.14,-1.02)(7.53,-1.08)(7.12,-1.26)(6.85,-1.43)(6.44,-1.43)(5.88,-1.32)(5.55,-1.39)(5.09,-1.26)(4.71,-1.18)(4.51,-1.35)(4.22,-1.25)(4.37,-1.00)(3.80,-0.92)(4.94,-1.02)(5.40,-0.98)(5.85,-0.86)(6.0,-0.69)(6.46,-0.61)(6.77,-0.77)(7.15,-0.53)(7.38,-0.45)(7.99,-0.37)(8.29,-0.29)(8.75,-0.41)(9.66,-0.77)(9.70,-0.90)(10.20,-0.20)(10.43,-0.41)(10.73,-0.27)(10.96,-0.33)(12.30,-0.30)(13.60,-0.51)(8.75,-0.76)(8.14,-0.65)(7.84,-0.53)(6.16,-0.53)(5.55,-0.69)(5.17,-0.86)(4.63,-0.98)(6.89,-1.02)(7.50,-0.77)(9.05,-0.45)(9.36,-0.33)(4.5,-1.1)(4.8,-0.95)(5.2,-1.1)(5.5,-0.85)(5.8,-1.0)(6.1,-0.8)(6.4,-0.9)(6.7,-0.6)(7.0,-0.7)(7.3,-0.5)(7.7,-0.45)(8.0,-0.5)(8.4,-0.4)(8.9,-0.35)(6.2,-1.15)(5.0,-1.25)(4.7,-1.25)(5.3,-0.8)(5.9,-0.65)(6.5,-0.7)(6.8,-0.4)(7.4,-0.65)(7.9,-0.3)(8.3,-0.55)(9.2,-0.55)(5.6,-1.25)};
\addplot[pr] coordinates {(6.45,1.72)(4.68,1.59)(3.69,1.06)(3.11,1.13)(8.93,0.77)(10.38,0.81)(9.91,0.65)(10.69,0.55)(12.0,0.47)(10.31,0.46)(10.21,0.37)(11.46,0.24)(9.20,0.22)(8.17,0.77)(7.61,0.69)(7.45,0.45)(7.53,0.37)(8.37,0.42)(6.77,0.98)(6.54,0.77)(6.54,0.57)(5.78,0.61)(5.55,1.10)(4.98,0.64)(7.15,0.69)(6.16,0.77)(7.0,0.5)(7.8,0.5)(8.5,0.4)
(3.77,-0.84)(4.25,-1.48)(15.53,-0.50)(11.91,-0.22)(10.58,-0.57)(11.0,-0.59)(9.20,-0.20)(9.82,-0.29)(9.51,-0.27)(8.29,-0.33)(7.45,-0.33)(6.62,-0.45)(6.77,-0.77)(4.71,-0.86)(5.32,-0.77)(8.22,-0.61)(8.60,-0.49)(6.92,-0.41)(5.85,-0.98)(5.0,-0.8)(5.6,-0.7)(6.3,-0.55)(7.0,-0.45)(7.6,-0.4)(8.6,-0.3)(9.0,-0.25)};
\addplot[po] coordinates {(3.48,1.85)(3.03,1.26)(4.41,1.13)(6.65,1.00)(6.19,0.87)(11.40,0.60)(11.16,0.41)(6.01,0.53)(3.20,-1.33)(3.72,-1.17)(4.19,-0.77)(5.93,-0.51)(6.42,-1.44)(6.84,-1.31)};
\addplot[pw] coordinates {(7.88,0.42)(8.75,0.45)(9.15,0.42)(11.16,0.40)(15.29,-0.22)(12.16,-0.77)(11.05,-0.77)(10.34,-0.98)(10.31,-0.68)(9.70,-0.92)(9.31,-0.86)(9.17,-0.94)(8.98,-1.10)(8.72,-1.18)(8.75,-1.26)(8.12,-1.24)(7.69,-1.21)(9.51,-1.35)(8.51,-1.89)(9.48,-2.18)(7.07,-1.62)(7.19,-1.71)(7.84,-0.77)(8.22,-0.82)(8.94,-0.63)(10.01,-0.37)(10.12,-0.38)(10.92,-0.16)(10.43,-0.29)(6.46,-0.51)(6.62,-0.57)(5.44,-0.69)(7.35,-0.86)(6.0,-0.94)(8.81,-0.24)};
\end{axis}
\strip{fc}{FCGR3A+ Monocytes}

% NK cells
\begin{axis}[panel, xlab, at={(462.9pt,-332.6pt)}, name=nk]
\addplot[hz] coordinates {(2.06,0) (17.49,0)};
\addplot[ps] coordinates {(3.79,2.57)(4.19,1.88)(3.56,1.50)(3.43,1.30)(6.06,1.24)(5.95,1.09)(4.98,1.18)(5.02,0.84)(7.58,0.77)(7.23,0.94)(7.35,0.56)(8.53,0.91)(9.95,0.84)(6.44,0.61)(6.28,0.73)(5.72,0.77)(4.76,0.90)(4.31,-1.39)(4.95,-1.12)(6.39,-1.22)};
\addplot[pr] coordinates {(3.38,2.03)(4.68,1.53)(4.11,1.40)(2.74,1.05)(3.64,1.07)(4.33,1.20)(5.06,1.29)(6.82,1.37)(7.09,1.18)(7.28,1.06)(7.89,0.98)(4.45,0.82)(5.52,0.71)(6.28,0.86)(6.44,0.42)(6.90,0.69)(7.20,0.47)(7.48,0.40)(7.86,0.38)(8.20,0.44)(8.27,0.45)(9.50,0.29)(10.54,0.33)(5.83,0.69)(10.21,-0.36)(10.89,-0.36)(8.04,-0.55)(7.16,-0.82)(5.67,-1.00)(6.28,-1.08)(3.84,-1.36)(4.40,-1.54)(4.65,-1.17)};
\addplot[po] coordinates {(2.72,1.46)(3.61,1.53)(5.09,1.78)(9.14,1.33)(8.55,0.99)(3.30,1.10)(3.10,1.00)(3.91,0.86)(4.14,0.98)(4.60,1.26)(5.21,1.02)(5.52,0.90)(4.95,0.64)(5.90,0.86)(6.90,0.69)(6.79,0.42)(7.35,0.34)(8.24,0.70)(10.61,0.57)(10.56,0.27)(6.59,0.69)(4.3,1.1)(5.6,1.0)(6.2,0.75)(2.72,-3.38)(2.86,-3.00)(2.72,-2.32)(2.72,-2.00)(3.84,-2.00)(4.01,-1.93)(4.92,-2.32)(2.72,-1.10)(2.84,-1.17)(3.15,-1.47)(3.38,-1.28)(3.20,-1.00)(4.37,-0.92)(4.86,-0.64)(5.32,-0.77)(5.38,-1.20)(5.53,-1.47)(6.03,-1.62)(6.57,-1.38)(7.23,-1.07)(7.81,-0.95)(7.99,-0.68)(6.24,-0.63)(5.20,-0.90)(3.84,-1.02)(4.7,-1.05)(5.8,-0.8)};
\addplot[pw] coordinates {(3.03,1.66)(3.15,1.51)(2.72,1.20)(3.03,1.10)(5.34,1.29)(5.64,1.26)(7.51,1.32)(9.07,1.05)(7.45,0.94)(7.94,0.59)(8.62,0.39)(8.70,0.29)(9.46,0.34)(9.86,0.55)(9.68,0.24)(9.86,0.24)(7.89,0.30)(5.98,0.69)(2.72,-2.65)(2.72,-2.73)(2.72,-2.27)(2.72,-2.08)(2.72,-1.84)(2.72,-1.67)(2.72,-1.55)(2.72,-1.35)(3.21,-2.10)(4.39,-2.33)(4.30,-1.95)(5.12,-1.82)(5.57,-1.85)(6.13,-1.81)(6.59,-1.88)(6.91,-1.99)(7.99,-1.90)(8.96,-1.87)(7.80,-1.45)(8.03,-1.13)(8.42,-1.24)(8.62,-1.24)(8.32,-0.99)(10.37,-1.10)(12.60,-0.25)(7.74,-0.31)(8.12,-0.33)(8.73,-0.33)(9.46,-0.33)(9.08,-0.46)(9.40,-0.65)(8.47,-0.45)(7.66,-0.45)(7.23,-0.56)(6.90,-0.45)(6.54,-0.43)(6.06,-0.49)(5.95,-0.63)(6.82,-0.82)(5.09,-0.57)(4.45,-0.71)(3.95,-0.75)(3.38,-0.98)(3.69,-1.10)(4.14,-1.14)(4.30,-1.22)(4.76,-1.26)(5.09,-1.31)(5.52,-1.10)(6.28,-1.26)(7.44,-0.90)(6.21,-1.43)(3.99,-1.45)(5.4,-0.95)(6.6,-0.7)};
\end{axis}
\strip{nk}{NK cells}

\node[anchor=base, inner sep=0pt, font=\afs] at (459.3pt,-623.1pt) {control-arm baseline expression in that lineage (log2 CPM)};
\node[anchor=base, rotate=90, inner sep=0pt, font=\afs] at (15.6pt,-310.2pt) {interaction contrast (lineage - average), log2 units};
\node[anchor=west, inner sep=0pt, font=\afs] at (893.8pt,-274.7pt) {direction};
\end{tikzpicture}
\end{document}
